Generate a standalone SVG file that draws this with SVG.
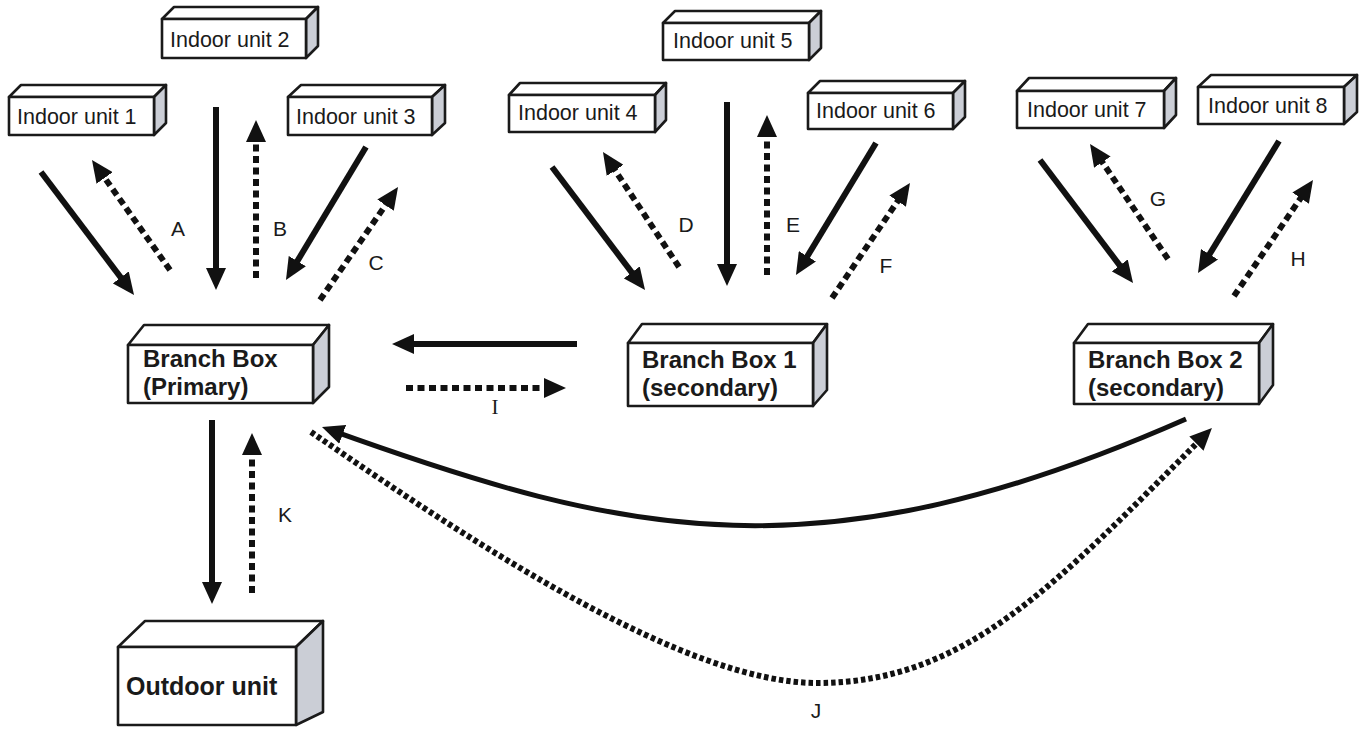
<svg xmlns="http://www.w3.org/2000/svg" width="1368" height="730" viewBox="0 0 1368 730">
<style>
.front{fill:#fff;stroke:#1a1a1a;stroke-width:2.6;stroke-linejoin:round}
.top{fill:#fff;stroke:#1a1a1a;stroke-width:2.6;stroke-linejoin:round}
.side{fill:#cbced6;stroke:#1a1a1a;stroke-width:2.6;stroke-linejoin:round}
.ut{font-family:"Liberation Sans",Arial,sans-serif;font-size:21.5px;fill:#1a1a1a}
.bt{font-family:"Liberation Sans",Arial,sans-serif;font-size:24px;font-weight:bold;fill:#1a1a1a}
.lb{font-family:"Liberation Sans",Arial,sans-serif;font-size:21px;fill:#1a1a1a;text-anchor:middle}
.sol{fill:none;stroke:#111;stroke-width:6;marker-end:url(#ah)}
.dash{fill:none;stroke:#111;stroke-width:6;stroke-dasharray:7 4.5;marker-end:url(#ah)}
.curve{fill:none;stroke:#111;stroke-width:5;marker-end:url(#ah)}
.jdash{fill:none;stroke:#111;stroke-width:6;stroke-dasharray:4.5 3;marker-end:url(#ah)}
</style>
<defs>
<marker id="ah" markerUnits="userSpaceOnUse" viewBox="0 0 22 20" markerWidth="22" markerHeight="20" refX="14" refY="10" orient="auto">
<path d="M0,0 L22,10 L0,20 z" fill="#111"/>
</marker>
</defs>
<rect width="1368" height="730" fill="#fff"/>

<g id="indoor1">
<polygon class="top" points="9,97 21,85 166,85 154,97"/>
<polygon class="side" points="154,97 166,85 166,123 154,135"/>
<rect class="front" x="9" y="97" width="145" height="38"/>
<text class="ut" x="17" y="124">Indoor unit 1</text>
</g>
<g id="indoor2">
<polygon class="top" points="162,19 174,7 318,7 306,19"/>
<polygon class="side" points="306,19 318,7 318,46 306,58"/>
<rect class="front" x="162" y="19" width="144" height="39"/>
<text class="ut" x="170" y="47">Indoor unit 2</text>
</g>
<g id="indoor3">
<polygon class="top" points="288,97 301,85 445,85 432,97"/>
<polygon class="side" points="432,97 445,85 445,123 432,135"/>
<rect class="front" x="288" y="97" width="144" height="38"/>
<text class="ut" x="296" y="124">Indoor unit 3</text>
</g>
<g id="indoor4">
<polygon class="top" points="509,95 520,83 666,83 655,95"/>
<polygon class="side" points="655,95 666,83 666,120 655,132"/>
<rect class="front" x="509" y="95" width="146" height="37"/>
<text class="ut" x="518" y="120">Indoor unit 4</text>
</g>
<g id="indoor5">
<polygon class="top" points="663,23 675,11 821,11 809,23"/>
<polygon class="side" points="809,23 821,11 821,48 809,60"/>
<rect class="front" x="663" y="23" width="146" height="37"/>
<text class="ut" x="673" y="48">Indoor unit 5</text>
</g>
<g id="indoor6">
<polygon class="top" points="808,93 820,81 965,81 953,93"/>
<polygon class="side" points="953,93 965,81 965,117 953,129"/>
<rect class="front" x="808" y="93" width="145" height="36"/>
<text class="ut" x="816" y="118">Indoor unit 6</text>
</g>
<g id="indoor7">
<polygon class="top" points="1017,91 1029,78 1176,78 1164,91"/>
<polygon class="side" points="1164,91 1176,78 1176,115 1164,128"/>
<rect class="front" x="1017" y="91" width="147" height="37"/>
<text class="ut" x="1027" y="117">Indoor unit 7</text>
</g>
<g id="indoor8">
<polygon class="top" points="1198,87 1211,75 1357,75 1344,87"/>
<polygon class="side" points="1344,87 1357,75 1357,112 1344,124"/>
<rect class="front" x="1198" y="87" width="146" height="37"/>
<text class="ut" x="1208" y="113">Indoor unit 8</text>
</g>

<g id="branch-primary">
<polygon class="top" points="128,345 144,325 329,325 313,345"/>
<polygon class="side" points="313,345 329,325 329,387 313,403"/>
<rect class="front" x="128" y="345" width="185" height="58"/>
<text class="bt" x="143" y="367">Branch Box</text>
<text class="bt" x="143" y="395">(Primary)</text>
</g>
<g id="branch-box-1">
<polygon class="top" points="628,343 642,324 827,324 813,343"/>
<polygon class="side" points="813,343 827,324 827,390 813,406"/>
<rect class="front" x="628" y="343" width="185" height="63"/>
<text class="bt" x="642" y="368">Branch Box 1</text>
<text class="bt" x="642" y="396">(secondary)</text>
</g>
<g id="branch-box-2">
<polygon class="top" points="1074,343 1088,324 1273,324 1259,343"/>
<polygon class="side" points="1259,343 1273,324 1273,385 1259,404"/>
<rect class="front" x="1074" y="343" width="185" height="61"/>
<text class="bt" x="1088" y="368">Branch Box 2</text>
<text class="bt" x="1088" y="396">(secondary)</text>
</g>
<g id="outdoor">
<polygon class="top" points="118,647 145,621 323,621 296,647"/>
<polygon class="side" points="296,647 323,621 323,712 296,725"/>
<rect class="front" x="118" y="647" width="178" height="78"/>
<text class="bt" x="126" y="695" style="font-size:25px">Outdoor unit</text>
</g>

<g id="connectors">
<line class="sol" x1="41" y1="172" x2="129.2" y2="288.6"/>
<line class="dash" x1="170" y1="270" x2="96.6" y2="166.5"/>
<line class="sol" x1="216" y1="107" x2="216" y2="282"/>
<line class="dash" x1="256" y1="278" x2="256" y2="128"/>
<line class="sol" x1="366" y1="147" x2="290.1" y2="273.1"/>
<line class="dash" x1="320" y1="300" x2="393.5" y2="193.6"/>

<line class="sol" x1="552" y1="167" x2="640.2" y2="283.6"/>
<line class="dash" x1="679" y1="267" x2="607.4" y2="158.7"/>
<line class="sol" x1="727" y1="102" x2="727" y2="278"/>
<line class="dash" x1="767" y1="275" x2="767" y2="123"/>
<line class="sol" x1="876" y1="143" x2="800.1" y2="268.2"/>
<line class="dash" x1="832" y1="298" x2="905.5" y2="189.6"/>

<line class="sol" x1="1040" y1="160" x2="1128.2" y2="276.6"/>
<line class="dash" x1="1168" y1="259" x2="1094.5" y2="150.6"/>
<line class="sol" x1="1279" y1="141" x2="1202.2" y2="266.2"/>
<line class="dash" x1="1234" y1="296" x2="1308.5" y2="186.6"/>

<line class="sol" x1="577" y1="344" x2="400" y2="344"/>
<line class="dash" x1="406" y1="388" x2="558" y2="388"/>

<line class="sol" x1="212" y1="420" x2="212" y2="596"/>
<line class="dash" x1="252" y1="593" x2="252" y2="441"/>

<path class="curve" d="M1186,419 C820,580 630,538 329.5,429.7"/>
<path class="jdash" d="M311,432 C481,549 687,683 817,683 C967,683 1056,584 1206.3,433.7"/>

<text class="lb" x="178" y="236">A</text>
<text class="lb" x="280" y="236">B</text>
<text class="lb" x="376" y="270">C</text>
<text class="lb" x="686" y="232">D</text>
<text class="lb" x="793" y="232">E</text>
<text class="lb" x="886" y="273">F</text>
<text class="lb" x="1158" y="206">G</text>
<text class="lb" x="1298" y="266">H</text>
<text class="lb" x="495" y="414" style="font-family:'Liberation Serif',serif">I</text>
<text class="lb" x="816" y="718">J</text>
<text class="lb" x="285" y="522">K</text>
</g>
</svg>
